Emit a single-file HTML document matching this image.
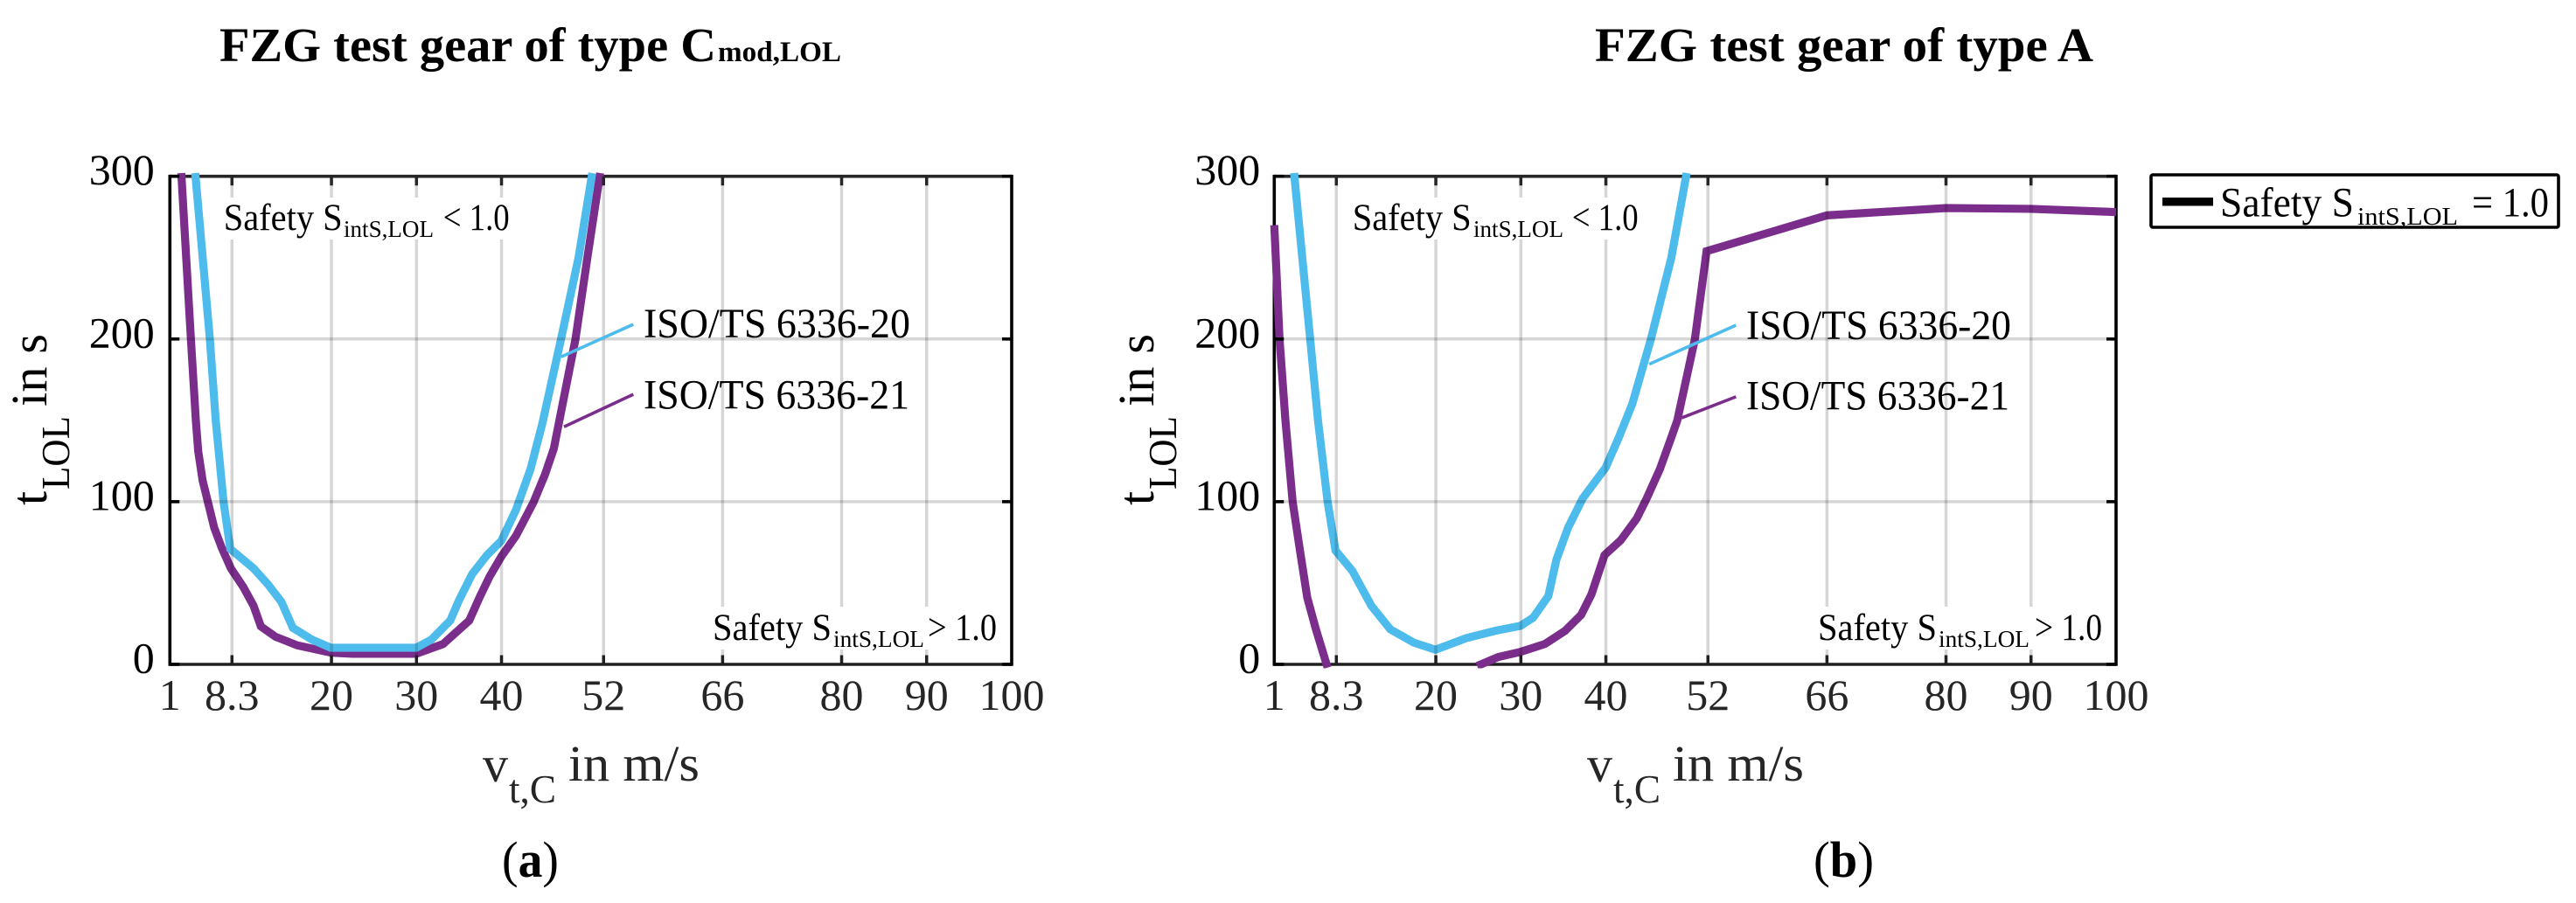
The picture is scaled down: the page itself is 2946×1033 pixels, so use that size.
<!DOCTYPE html>
<html lang="en">
<head>
<meta charset="utf-8">
<title>FZG test gear safety charts</title>
<style>
html,body{margin:0;padding:0;background:#fff;}
svg{display:block;}
text{font-family:"Liberation Serif","DejaVu Serif",serif;fill:#000;}
.title{font-weight:bold;font-size:55px;}
.title-sub{font-weight:bold;font-size:33px;}
.ann{font-size:43px;}
.ann-sub{font-size:27px;}
.iso{font-size:48px;}
.axis-main{font-size:58px;fill:#262626;}
.axis-sub{font-size:45px;fill:#262626;}
.tick-y{font-size:50px;}
.tick-x{font-size:50px;fill:#262626;}
.caption{font-size:58px;}
</style>
</head>
<body>
<svg id="chart" xmlns="http://www.w3.org/2000/svg" width="2946" height="1033" viewBox="0 0 2946 1033">
  <rect x="0" y="0" width="2946" height="1033" fill="#fff"/>
  <g id="panel-a"></g>
  <g id="panel-b"></g>

  <g>
    <text class="title" x="251" y="70" textLength="568" lengthAdjust="spacingAndGlyphs">FZG test gear of type C</text>
    <text class="title-sub" x="821" y="70" textLength="141" lengthAdjust="spacingAndGlyphs">mod,LOL</text>
  </g>
  <text class="title" x="1824" y="70" textLength="570" lengthAdjust="spacingAndGlyphs">FZG test gear of type A</text>

  <g>
    <text class="axis-main" style="fill:#000" transform="translate(53,578) rotate(-90)">t</text>
    <text class="axis-sub" style="fill:#000" transform="translate(79,560) rotate(-90)" textLength="84" lengthAdjust="spacingAndGlyphs">LOL</text>
    <text class="axis-main" style="fill:#000" transform="translate(53,465) rotate(-90)" textLength="83" lengthAdjust="spacingAndGlyphs">in s</text>
  </g>
  <g>
    <text class="axis-main" style="fill:#000" transform="translate(1319,578) rotate(-90)">t</text>
    <text class="axis-sub" style="fill:#000" transform="translate(1345,560) rotate(-90)" textLength="84" lengthAdjust="spacingAndGlyphs">LOL</text>
    <text class="axis-main" style="fill:#000" transform="translate(1319,465) rotate(-90)" textLength="83" lengthAdjust="spacingAndGlyphs">in s</text>
  </g>

  <g>
    <text class="axis-main" x="552" y="894">v</text>
    <text class="axis-sub" x="582" y="918" textLength="54" lengthAdjust="spacingAndGlyphs">t,C</text>
    <text class="axis-main" x="650" y="893" textLength="150" lengthAdjust="spacingAndGlyphs">in m/s</text>
  </g>
  <g>
    <text class="axis-main" x="1815" y="894">v</text>
    <text class="axis-sub" x="1845" y="918" textLength="54" lengthAdjust="spacingAndGlyphs">t,C</text>
    <text class="axis-main" x="1913" y="893" textLength="150" lengthAdjust="spacingAndGlyphs">in m/s</text>
  </g>

  <text class="caption" x="574" y="1003" textLength="65" lengthAdjust="spacingAndGlyphs">(<tspan font-weight="bold">a</tspan>)</text>
  <text class="caption" x="2074" y="1003" textLength="69" lengthAdjust="spacingAndGlyphs">(<tspan font-weight="bold">b</tspan>)</text>

  <g id="annotations">
    <g>
      <rect x="250" y="226" width="340" height="48" fill="#fff"/>
      <text class="ann" x="255.7" y="263" textLength="136" lengthAdjust="spacingAndGlyphs">Safety S</text>
      <text class="ann-sub" x="393" y="271" textLength="103" lengthAdjust="spacingAndGlyphs">intS,LOL</text>
      <text class="ann" x="506.7" y="263" textLength="76" lengthAdjust="spacingAndGlyphs">&lt; 1.0</text>
    </g>
    <g>
      <rect x="812" y="694" width="333" height="49" fill="#fff"/>
      <text class="ann" x="815" y="732" textLength="136" lengthAdjust="spacingAndGlyphs">Safety S</text>
      <text class="ann-sub" x="953" y="740" textLength="104" lengthAdjust="spacingAndGlyphs">intS,LOL</text>
      <text class="ann" x="1061" y="732" textLength="79" lengthAdjust="spacingAndGlyphs">&gt; 1.0</text>
    </g>
    <g>
      <rect x="1542" y="226" width="338" height="48" fill="#fff"/>
      <text class="ann" x="1546.7" y="263" textLength="136" lengthAdjust="spacingAndGlyphs">Safety S</text>
      <text class="ann-sub" x="1685" y="271" textLength="103" lengthAdjust="spacingAndGlyphs">intS,LOL</text>
      <text class="ann" x="1797.7" y="263" textLength="76" lengthAdjust="spacingAndGlyphs">&lt; 1.0</text>
    </g>
    <g>
      <rect x="2076" y="694" width="332" height="49" fill="#fff"/>
      <text class="ann" x="2079" y="732" textLength="136" lengthAdjust="spacingAndGlyphs">Safety S</text>
      <text class="ann-sub" x="2217" y="740" textLength="104" lengthAdjust="spacingAndGlyphs">intS,LOL</text>
      <text class="ann" x="2327" y="732" textLength="77" lengthAdjust="spacingAndGlyphs">&gt; 1.0</text>
    </g>
    <text class="iso" x="736" y="386" textLength="305" lengthAdjust="spacingAndGlyphs">ISO/TS 6336-20</text>
    <text class="iso" x="736" y="467.5" textLength="304" lengthAdjust="spacingAndGlyphs">ISO/TS 6336-21</text>
    <text class="iso" x="1997" y="388" textLength="303" lengthAdjust="spacingAndGlyphs">ISO/TS 6336-20</text>
    <text class="iso" x="1997" y="468.5" textLength="301" lengthAdjust="spacingAndGlyphs">ISO/TS 6336-21</text>
  </g>

  <g>
    <rect x="2460" y="200" width="466" height="60" rx="2" fill="#fff" stroke="#000" stroke-width="3.6"/>
    <rect x="2473" y="226" width="58" height="9.5" fill="#000"/>
    <text class="iso" x="2539" y="247.3" textLength="153" lengthAdjust="spacingAndGlyphs">Safety S</text>
    <text style="font-size:29px" x="2696" y="257" textLength="115" lengthAdjust="spacingAndGlyphs">intS,LOL</text>
    <text class="iso" x="2827" y="247.3" textLength="88" lengthAdjust="spacingAndGlyphs">= 1.0</text>
  </g>
</svg>

<script>
// Axis tick values
var xTicks = [1, 8.3, 20, 30, 40, 52, 66, 80, 90, 100];
var yTicks = [0, 100, 200, 300];

// Panel (a): FZG test gear of type Cmod,LOL
var aIso21V = [2.34, 3.47, 4.05, 4.33, 4.85, 5.46, 6.21, 7.07, 8.17, 9.64, 10.84, 11.7, 13.41, 15.98, 19.92, 22.46, 29.97, 33.13, 36.2, 37.4, 38.6, 39.98, 41.7, 43.75, 45.1, 46.15, 48.7, 50.1, 51.6];
var aIso21T = [302, 200, 150, 131, 113, 100, 84, 72, 59, 47.5, 36, 23.3, 17, 11.7, 7.2, 6.5, 6.5, 12.5, 26.9, 41, 54, 66.3, 79, 99.5, 116.5, 132.6, 200, 250, 302];
var aIso20V = [3.98, 5.7, 6.39, 7.31, 8.1, 10.84, 12.56, 14.1, 15.47, 17.7, 19.92, 29.97, 31.75, 33.98, 35, 36.55, 38.27, 39.98, 41.7, 43.41, 44.8, 47, 49.06, 50.67];
var aIso20T = [302, 200, 150, 100, 71, 59, 49, 38.5, 22.4, 15.2, 10.2, 10.2, 15.2, 27, 39.4, 55.5, 67, 76, 95, 120, 148, 200, 250, 302];

// Panel (b): FZG test gear of type A
var bIso21LowV = [1, 1.62, 2.31, 3.16, 4.02, 4.88, 5.9, 7.27];
var bIso21LowT = [270, 200, 150, 100, 70, 41, 21.5, -2];
var bIso21HighV = [24.86, 27.33, 29.97, 32.82, 35.2, 37.1, 38.3, 39.84, 41.73, 43.62, 44.8, 46.35, 47.73, 48.4, 50.47, 51.84, 66, 80, 90, 100];
var bIso21HighT = [-1, 4.5, 7.7, 12.5, 20.6, 30.5, 43, 67.2, 76.2, 89.6, 102, 120, 140, 150, 200, 254, 276, 280.5, 280, 278];
var bIso20V = [3.33, 5.22, 6.14, 7.27, 8.2, 10.19, 12.42, 14.65, 17.39, 19.96, 23.56, 26.99, 29.97, 31.44, 33.23, 34.19, 35.55, 37.27, 39.98, 41.56, 43.1, 45.3, 47.7, 49.5];
var bIso20T = [302, 200, 150, 100, 70, 57.4, 36, 21.5, 13.4, 9, 16.1, 20.6, 23.7, 28.7, 42, 64.5, 84, 102, 121, 140, 160, 200, 250, 302];

// Leader lines for the callouts, in axis units
var aLeader20V = [47.0, 55.5];
var aLeader20T = [189, 209];
var aLeader21V = [47.35, 55.5];
var aLeader21T = [146, 166];
var bLeader20V = [45.1, 55.3];
var bLeader20T = [184.5, 208.5];
var bLeader21V = [48.9, 55.3];
var bLeader21T = [151.5, 164.5];

var SVG_NS = 'http://www.w3.org/2000/svg';
var PLOT_TOP = 201.7;
var PLOT_BOTTOM = 760;
var PLOT_WIDTH = 962.7;
var PURPLE = '#7b2d8b';
var BLUE = '#4dbbec';

function svgEl(tag, parent) {
  var el = document.createElementNS(SVG_NS, tag);
  parent.appendChild(el);
  return el;
}

function makeLine(parent, x1, y1, x2, y2, color, width) {
  var el = svgEl('line', parent);
  el.setAttribute('x1', x1);
  el.setAttribute('y1', y1);
  el.setAttribute('x2', x2);
  el.setAttribute('y2', y2);
  el.setAttribute('stroke', color);
  el.setAttribute('stroke-width', width);
  return el;
}

function drawPanel(root, id, left, yLabelGap, series, leaders) {
  var right = left + PLOT_WIDTH;
  function xScale(v) { return left + (v - 1) * PLOT_WIDTH / 99; }
  function yScale(t) { return PLOT_BOTTOM - t * (PLOT_BOTTOM - PLOT_TOP) / 300; }

  var defs = svgEl('defs', root);
  var clip = svgEl('clipPath', defs);
  clip.setAttribute('id', 'clip-' + id);
  var clipRect = svgEl('rect', clip);
  clipRect.setAttribute('x', left - 5);
  clipRect.setAttribute('y', PLOT_TOP - 4.5);
  clipRect.setAttribute('width', PLOT_WIDTH + 10);
  clipRect.setAttribute('height', PLOT_BOTTOM - PLOT_TOP + 9);

  var frameTop = makeLine(root, left, yScale(300), right, yScale(300), '#262626', 3.6);
  
  
  var frameBottom = makeLine(root, left, yScale(0), right, yScale(0), '#202020', 3.6);
  
  
  var frameLeft = makeLine(root, left, yScale(300) - 1.8, left, yScale(0) + 1.8, '#000', 3.6);
  
  
  var frameRight = makeLine(root, right, yScale(300) - 1.8, right, yScale(0) + 1.8, '#000', 3.6);
  
  

  series.forEach(function (s) {
    var d = s.v.map(function (v, i) {
      return (i ? 'L' : 'M') + xScale(v).toFixed(2) + ' ' + yScale(s.t[i]).toFixed(2);
    }).join(' ');
    var path = svgEl('path', root);
    path.setAttribute('d', d);
    path.setAttribute('fill', 'none');
    path.setAttribute('stroke', s.color);
    path.setAttribute('stroke-width', '9.2');
    path.setAttribute('stroke-linejoin', 'miter');
    path.setAttribute('clip-path', 'url(#clip-' + id + ')');
    
    
  });

  xTicks.forEach(function (tick) {
    var px = xScale(tick);
    if (tick !== 1 && tick !== 100) {
      var grid = makeLine(root, px, PLOT_TOP, px, PLOT_BOTTOM, 'rgba(0,0,0,0.16)', 3.5);
      
      
      var topTick = makeLine(root, px, PLOT_TOP, px, PLOT_TOP + 10.5, '#262626', 3.5);
      
      
      var bottomTick = makeLine(root, px, PLOT_BOTTOM, px, PLOT_BOTTOM - 10.5, '#202020', 3.5);
      
      
    }
    var label = svgEl('text', root);
    label.setAttribute('class', 'tick-x');
    label.setAttribute('x', px);
    label.setAttribute('y', 812);
    label.setAttribute('text-anchor', 'middle');
    label.textContent = String(tick);
    
    
  });

  yTicks.forEach(function (tick) {
    var py = yScale(tick);
    if (tick === 100 || tick === 200) {
      var grid = makeLine(root, left + 11, py, right - 11, py, 'rgba(0,0,0,0.16)', 3.5);
      
      
    }
    var leftTick = makeLine(root, left, py, left + 11, py, '#000', 3.6);
    
    
    var rightTick = makeLine(root, right, py, right - 11, py, '#000', 3.6);
    
    
    var label = svgEl('text', root);
    label.setAttribute('class', 'tick-y');
    label.setAttribute('x', left - yLabelGap);
    label.setAttribute('y', py + 9.5);
    label.setAttribute('text-anchor', 'end');
    label.textContent = String(tick);
    
    
  });

  leaders.forEach(function (l) {
    var line = makeLine(root, xScale(l.v[0]), yScale(l.t[0]), xScale(l.v[1]), yScale(l.t[1]), l.color, 3.6);
    
    
  });
}

drawPanel(document.getElementById('panel-a'), 'panel-a', 194.3, 17.5,
  [
    { name: 'iso-21-curve', v: aIso21V, t: aIso21T, color: PURPLE },
    { name: 'iso-20-curve', v: aIso20V, t: aIso20T, color: BLUE }
  ],
  [
    { name: 'iso-20-leader', v: aLeader20V, t: aLeader20T, color: BLUE },
    { name: 'iso-21-leader', v: aLeader21V, t: aLeader21T, color: PURPLE }
  ]);

drawPanel(document.getElementById('panel-b'), 'panel-b', 1457.3, 16,
  [
    { name: 'iso-21-low-speed-curve', v: bIso21LowV, t: bIso21LowT, color: PURPLE },
    { name: 'iso-21-high-speed-curve', v: bIso21HighV, t: bIso21HighT, color: PURPLE },
    { name: 'iso-20-curve', v: bIso20V, t: bIso20T, color: BLUE }
  ],
  [
    { name: 'iso-20-leader', v: bLeader20V, t: bLeader20T, color: BLUE },
    { name: 'iso-21-leader', v: bLeader21V, t: bLeader21T, color: PURPLE }
  ]);
</script>
</body>
</html>
